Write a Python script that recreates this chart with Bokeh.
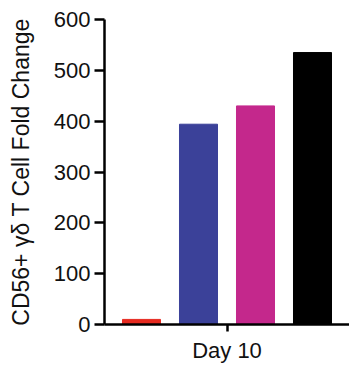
from bokeh.plotting import figure
from bokeh.models import ColumnDataSource, Range1d, FixedTicker
from bokeh.embed import file_html
from bokeh.resources import INLINE

# data
groups = ["Group 1", "Group 2", "Group 3", "Group 4"]
values = [10, 394, 430, 535]
colors = ["#e62a20", "#3b4199", "#c4288c", "#000000"]
positions = [0, 1, 2, 3]
day_label = "Day 10"
y_ticks = [0, 100, 200, 300, 400, 500, 600]

src = ColumnDataSource(dict(x=positions, top=values, color=colors, name=groups))

p = figure(width=349, height=365, output_backend="svg", toolbar_location=None,
           x_range=Range1d(-0.649, 3.649), y_range=Range1d(0, 600),
           min_border_left=104, min_border_right=0, min_border_top=19, min_border_bottom=39)
p.vbar(x="x", top="top", bottom=0, width=0.667, color="color", source=src)

p.grid.visible = False
p.outline_line_color = None
p.background_fill_color = "#ffffff"

font = "Liberation Sans"
ya = p.yaxis[0]
ya.ticker = FixedTicker(ticks=y_ticks)
ya.axis_line_width = 2.5
ya.major_tick_line_width = 2.5
ya.major_tick_out = 10
ya.major_tick_in = 0
ya.minor_tick_line_color = None
ya.major_label_text_font = font
ya.major_label_text_font_size = "22px"
ya.major_label_text_color = "#111111"
ya.major_label_standoff = 4
ya.axis_label = "CD56+ γδ T Cell Fold Change"
ya.axis_label_text_font = font
ya.axis_label_text_font_size = "23px"
ya.axis_label_text_font_style = "normal"
ya.axis_label_text_color = "#111111"
ya.axis_label_standoff = 17

xa = p.xaxis[0]
xa.ticker = FixedTicker(ticks=[1.5])
xa.major_label_overrides = {1.5: day_label}
xa.axis_line_width = 2.5
xa.major_tick_line_width = 2.5
xa.major_tick_out = 7
xa.major_tick_in = 0
xa.minor_tick_line_color = None
xa.major_label_text_font = font
xa.major_label_text_font_size = "22px"
xa.major_label_text_color = "#111111"
xa.major_label_standoff = 6

open("out.html", "w").write(file_html(p, INLINE))
